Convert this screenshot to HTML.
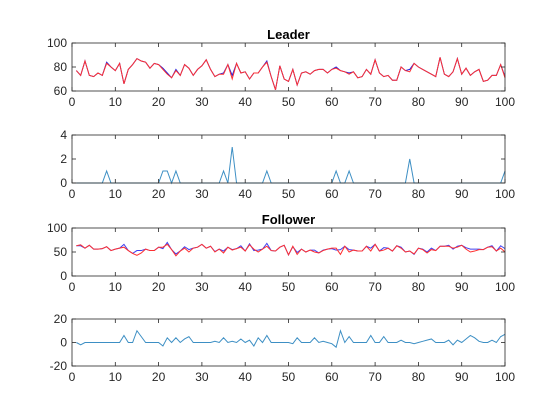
<!DOCTYPE html>
<html><head><meta charset="utf-8"><style>
body{margin:0;background:#fff;}
svg{display:block;font-family:"Liberation Sans",sans-serif;}
</style></head><body>
<svg id="chart" width="558" height="419"></svg>
<script>
const xTicks=[0,10,20,30,40,50,60,70,80,90,100];
const leaderActual=[77,73,85,73,72,75,73,83,80,77,83,66,78,82,87,85,84,79,83,82,78,74,71,77,73,82,79,73,78,81,86,78,72,74,74,82,70,83,75,76,70,75,75,80,84,72,61,81,70,68,78,65,75,76,74,77,78,78,75,78,79,77,76,74,76,71,72,78,74,86,75,72,73,69,69,80,77,76,83,80,78,76,74,72,88,74,72,76,87,74,79,73,76,78,68,69,73,73,82,71];
const leaderDiff=[0,0,0,0,0,0,0,1,0,0,0,0,0,0,0,0,0,0,0,0,1,1,0,1,0,0,0,0,0,0,0,0,0,0,1,0,3,0,0,0,0,0,0,0,1,0,0,0,0,0,0,0,0,0,0,0,0,0,0,0,1,0,0,1,0,0,0,0,0,0,0,0,0,0,0,0,0,2,0,0,0,0,0,0,0,0,0,0,0,0,0,0,0,0,0,0,0,0,0,1];
const followerActual=[63,65,58,64,56,56,57,61,53,56,58,60,53,47,43,48,56,53,53,60,60,66,55,42,52,58,50,58,60,66,58,62,50,56,48,60,54,57,60,52,65,56,50,56,62,53,52,60,64,44,62,45,56,50,54,50,48,53,56,58,58,45,62,50,54,52,52,62,52,66,52,54,58,52,63,58,50,52,46,58,55,48,55,53,62,62,62,58,60,64,56,50,52,55,55,60,61,52,58,50];
const followerDiff=[0,-2,0,0,0,0,0,0,0,0,0,6,0,0,10,5,0,0,0,0,-3,4,0,4,0,3,5,0,0,0,0,0,1,0,4,0,1,0,3,0,2,-3,4,0,6,0,0,0,0,0,-1,4,0,0,0,4,0,1,0,-1,-4,10,0,5,0,0,0,0,6,0,0,5,0,0,0,2,0,0,-1,0,1,2,3,0,0,0,2,-2,2,0,3,6,4,1,0,0,2,0,5,7];
const panels=[
 {name:'leader',top:43,bot:91,ymin:60,ymax:100,yt:[60,80,100],title:'Leader',series:[{v:leaderActual.map((a,i)=>a+leaderDiff[i]),c:'#2020e0'},{v:leaderActual,c:'#ff3030'}]},
 {name:'leader-diff',top:135,bot:183,ymin:0,ymax:4,yt:[0,2,4],series:[{v:leaderDiff,c:'#3d8fc4'}]},
 {name:'follower',top:228,bot:276,ymin:0,ymax:100,yt:[0,50,100],title:'Follower',series:[{v:followerActual.map((a,i)=>a+followerDiff[i]),c:'#4040f0'},{v:followerActual,c:'#ff3030'}]},
 {name:'follower-diff',top:319,bot:366,ymin:-20,ymax:20,yt:[-20,0,20],series:[{v:followerDiff,c:'#3d8fc4'}]}
];
const svg=document.getElementById('chart');
const NS='http://www.w3.org/2000/svg';
const L=72,R=505;
const xs=x=>L+(x/100)*(R-L);
function mk(t,a,p){const e=document.createElementNS(NS,t);for(const k in a)e.setAttribute(k,a[k]);p.appendChild(e);return e;}
panels.forEach(p=>{
 const g=mk('g',{},svg);
 
 
 const ys=v=>p.bot-(v-p.ymin)/(p.ymax-p.ymin)*(p.bot-p.top);
 p.series.forEach((s,si)=>{
  const pl=mk('polyline',{points:s.v.map((v,i)=>xs(i+1)+','+ys(v)).join(' '),fill:'none',stroke:s.c,'stroke-width':1},g);
  
  
 });
 const fr=mk('rect',{x:L,y:p.top,width:R-L,height:p.bot-p.top,fill:'none',stroke:'#262626','stroke-width':0.8},g);
 
 
 xTicks.forEach(t=>{
  mk('line',{x1:xs(t),x2:xs(t),y1:p.bot,y2:p.bot-4,stroke:'#262626','stroke-width':0.8},g);
  mk('line',{x1:xs(t),x2:xs(t),y1:p.top,y2:p.top+4,stroke:'#262626','stroke-width':0.8},g);
  const tx=mk('text',{x:xs(t),y:p.bot+15,'text-anchor':'middle','font-size':12,fill:'#262626'},g);
  tx.textContent=t;
  
  
 });
 p.yt.forEach(t=>{
  mk('line',{x1:L,x2:L+4,y1:ys(t),y2:ys(t),stroke:'#262626','stroke-width':0.8},g);
  mk('line',{x1:R,x2:R-4,y1:ys(t),y2:ys(t),stroke:'#262626','stroke-width':0.8},g);
  const ty=mk('text',{x:L-5,y:ys(t)+4,'text-anchor':'end','font-size':12,fill:'#262626'},g);
  ty.textContent=t;
  
  
 });
 if(p.title){
  const tt=mk('text',{x:(L+R)/2,y:p.top-4,'text-anchor':'middle','font-size':13,'font-weight':'bold',fill:'#000'},g);
  tt.textContent=p.title;
  
  
 }
});
</script>
</body></html>
